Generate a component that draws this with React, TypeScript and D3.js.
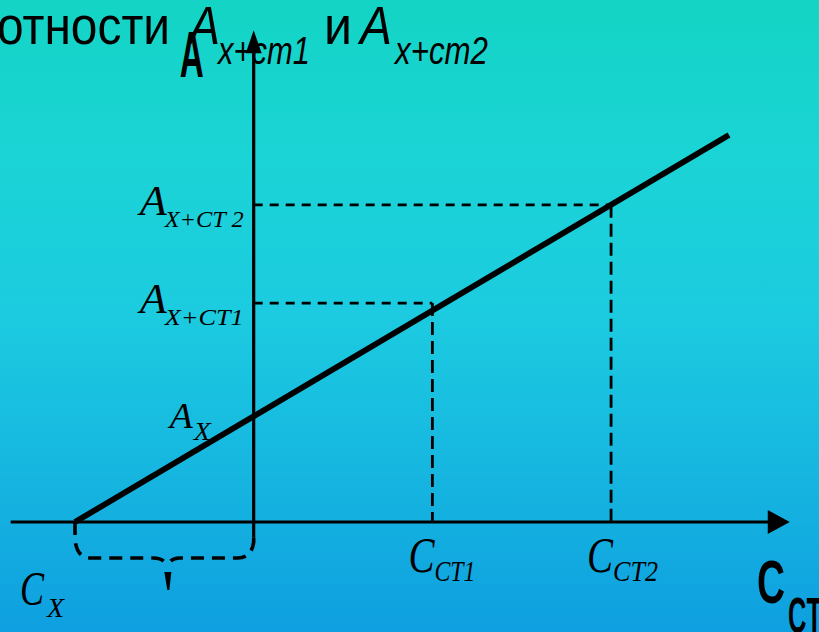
import React from "react";
import * as d3 from "d3";

const W = 819;
const H = 632;

// concentration (x) values
const lineC = [-1, 2.66]; // C_X (negative offset) to end of line
const lineA = [0, 3.66];
const stdC = [1, 2]; // C_CT1, C_CT2
const stdA = [2.07, 3.0]; // A_X+CT1, A_X+CT2
const axisXExtent = [-1.36, 3.0];
const axisYMax = 4.65;
const axisYMin = -0.15;
const stdSubs = ["CT1", "CT2"];
const aSubs = ["X+CT1", "X+CT 2"];

const serif = "'Liberation Serif', 'Times New Roman', serif";
const sans = "'Liberation Sans', Arial, sans-serif";

export default function App() {
  const x = d3.scaleLinear().domain([lineC[0], lineC[1]]).range([75, 729]);
  const y = d3.scaleLinear().domain([lineA[0], lineA[1]]).range([522, 135]);
  const line = d3.line<number>().x((d) => x(lineC[d])).y((d) => y(lineA[d]));

  const x0 = x(0);
  const yBase = y(0);
  const xL = x(axisXExtent[0]);
  const xR = x(axisXExtent[1]);
  const yTop = y(axisYMax);
  const yBot = y(axisYMin);
  const cx = x(lineC[0]);
  const mid = (cx + x0) / 2 + 3;
  const by = yBase + 36;

  const bracePath = d3.path();
  bracePath.moveTo(cx, yBase);
  bracePath.lineTo(cx, yBase + 16);
  bracePath.quadraticCurveTo(cx + 1, by, cx + 16, by);
  bracePath.lineTo(mid - 14, by);
  bracePath.quadraticCurveTo(mid - 2, by, mid, by + 10);
  const bracePath2 = d3.path();
  bracePath2.moveTo(x0, yBot);
  bracePath2.lineTo(x0, yBase + 20);
  bracePath2.quadraticCurveTo(x0 - 2, by, x0 - 16, by);
  bracePath2.lineTo(mid + 12, by);
  bracePath2.quadraticCurveTo(mid + 2, by, mid, by + 10);

  return (
    <svg width={W} height={H} style={{ position: "absolute", left: 0, top: 0 }}>
      <defs>
        <linearGradient id="bg" x1="0" y1="0" x2="0" y2="1">
          <stop offset="0" stopColor="#13d4c4" />
          <stop offset="0.25" stopColor="#1bd4d6" />
          <stop offset="0.5" stopColor="#1ccbe0" />
          <stop offset="0.75" stopColor="#16b6e0" />
          <stop offset="1" stopColor="#0e9fe0" />
        </linearGradient>
      </defs>
      <rect x={0} y={0} width={W} height={H} fill="url(#bg)" />

      {/* title */}
      <g fill="#000" fontFamily={sans}>
        <text x={-3} y={44} fontSize={54} textLength={173} lengthAdjust="spacingAndGlyphs">отности</text>
        <text x={189} y={44} fontSize={54} fontStyle="italic" textLength={31} lengthAdjust="spacingAndGlyphs">A</text>
        <text x={218} y={64} fontSize={39} fontStyle="italic" textLength={92} lengthAdjust="spacingAndGlyphs">x+cm1</text>
        <text x={324} y={44} fontSize={54} textLength={28} lengthAdjust="spacingAndGlyphs">и</text>
        <text x={360} y={44} fontSize={54} fontStyle="italic" textLength={32} lengthAdjust="spacingAndGlyphs">A</text>
        <text x={395} y={64} fontSize={39} fontStyle="italic" textLength={93} lengthAdjust="spacingAndGlyphs">x+cm2</text>
      </g>

      {/* dashed guides */}
      {stdC.map((c, i) => (
        <g key={i} stroke="#000" strokeWidth={2.8} fill="none">
          <line x1={x0} y1={y(stdA[i])} x2={x(c)} y2={y(stdA[i])} strokeDasharray="9,7" />
          <line x1={x(c)} y1={y(stdA[i])} x2={x(c)} y2={yBase} strokeDasharray="13,6" />
        </g>
      ))}

      {/* axes */}
      <g stroke="#000" strokeWidth={3.2}>
        <line x1={xL} y1={yBase} x2={xR - 12} y2={yBase} />
        <line x1={x0} y1={yTop + 12} x2={x0} y2={yBot} />
      </g>
      <path d={`M${xR},${yBase} L${xR - 22},${yBase - 12} L${xR - 22},${yBase + 12} Z`} fill="#000" />
      <path d={`M${x0},${yTop} L${x0 - 8},${yTop + 23} L${x0 + 8},${yTop + 23} Z`} fill="#000" />

      {/* brace */}
      <path d={bracePath.toString()} stroke="#000" strokeWidth={3.6} fill="none" strokeDasharray="13,8" />
      <path d={bracePath2.toString()} stroke="#000" strokeWidth={3.6} fill="none" strokeDasharray="13,8" />
      <path
        d={`M${mid - 3},${by + 14} L${mid + 4},${by + 14} L${mid + 2},${by + 32} L${mid},${by + 32} Z`}
        fill="#000"
      />

      {/* calibration line */}
      <path d={line([0, 1]) || ""} stroke="#000" strokeWidth={5.8} fill="none" />

      {/* axis labels */}
      <g fill="#000" fontFamily={sans} fontWeight="bold">
        <text x={x0 - 74} y={77} fontSize={65} textLength={24} lengthAdjust="spacingAndGlyphs">A</text>
        <text x={757} y={603} fontSize={62} textLength={28} lengthAdjust="spacingAndGlyphs">C</text>
        <text x={788} y={633} fontSize={50} textLength={34} lengthAdjust="spacingAndGlyphs">CT</text>
      </g>

      {/* serif math labels */}
      <g fill="#000" fontFamily={serif} fontStyle="italic">
        {stdA.map((a, i) => (
          <g key={i}>
            <text x={x0 - 114} y={y(a) + 10} fontSize={42} textLength={27} lengthAdjust="spacingAndGlyphs">A</text>
            <text x={x0 - 89} y={y(a) + 22} fontSize={24} textLength={79} lengthAdjust="spacingAndGlyphs">{aSubs[i]}</text>
          </g>
        ))}
        <text x={x0 - 84} y={y(1) + 12} fontSize={35} textLength={23} lengthAdjust="spacingAndGlyphs">A</text>
        <text x={x0 - 60} y={y(1) + 24} fontSize={26} textLength={17} lengthAdjust="spacingAndGlyphs">X</text>

        <text x={cx - 55} y={605} fontSize={48} textLength={24} lengthAdjust="spacingAndGlyphs">C</text>
        <text x={cx - 28} y={617} fontSize={28} textLength={17} lengthAdjust="spacingAndGlyphs">X</text>

        {stdC.map((c, i) => (
          <g key={i}>
            <text x={x(c) - 24} y={572} fontSize={50} textLength={26} lengthAdjust="spacingAndGlyphs">C</text>
            <text x={x(c) + 2} y={581} fontSize={30} textLength={41 + i * 4} lengthAdjust="spacingAndGlyphs">{stdSubs[i]}</text>
          </g>
        ))}
      </g>
    </svg>
  );
}
